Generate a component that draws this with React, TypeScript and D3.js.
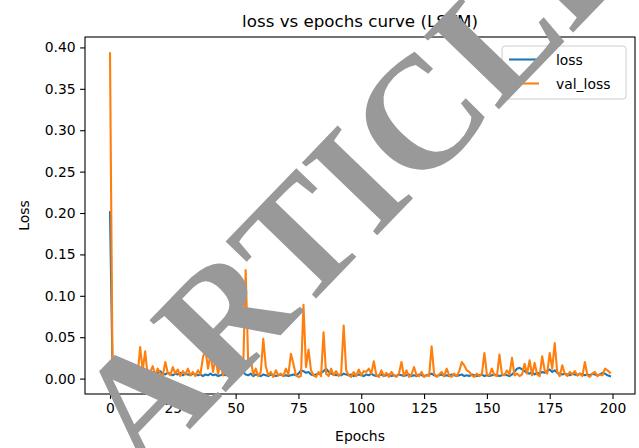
import React, { useEffect, useRef } from 'react';
import * as d3 from 'd3';

// per-epoch values
const loss = [
  0.201,
  0.012, 0.018, 0.010, 0.015, 0.008, 0.013, 0.009, 0.011, 0.007, 0.010,
  0.008, 0.006, 0.009, 0.007, 0.010, 0.006, 0.008, 0.005, 0.007, 0.009,
  0.006, 0.005, 0.007, 0.006, 0.004, 0.006, 0.005, 0.007, 0.004, 0.006,
  0.005, 0.004, 0.006, 0.005, 0.004, 0.005, 0.003, 0.005, 0.004, 0.006,
  0.004, 0.005, 0.003, 0.004, 0.006, 0.004, 0.005, 0.003, 0.004, 0.005,
  0.004, 0.006, 0.008, 0.005, 0.004, 0.006, 0.003, 0.005, 0.004, 0.003,
  0.005, 0.004, 0.003, 0.005, 0.004, 0.003, 0.004, 0.005, 0.003, 0.004,
  0.003, 0.004, 0.005, 0.004, 0.006, 0.010, 0.009, 0.007, 0.008, 0.005,
  0.004, 0.005, 0.006, 0.007, 0.009, 0.012, 0.008, 0.006, 0.005, 0.004,
  0.005, 0.004, 0.006, 0.005, 0.004, 0.005, 0.003, 0.004, 0.005, 0.004,
  0.003, 0.005, 0.004, 0.006, 0.004, 0.003, 0.004, 0.005, 0.003, 0.004,
  0.005, 0.003, 0.004, 0.003, 0.005, 0.004, 0.003, 0.004, 0.005, 0.003,
  0.004, 0.003, 0.005, 0.004, 0.003, 0.004, 0.005, 0.006, 0.004, 0.003,
  0.004, 0.005, 0.003, 0.004, 0.003, 0.005, 0.004, 0.003, 0.004, 0.005,
  0.003, 0.004, 0.003, 0.005, 0.004, 0.003, 0.004, 0.005, 0.003, 0.004,
  0.003, 0.004, 0.005, 0.004, 0.003, 0.004, 0.005, 0.004, 0.003, 0.005,
  0.008, 0.012, 0.013, 0.011, 0.009, 0.007, 0.006, 0.008, 0.005, 0.007,
  0.006, 0.008, 0.007, 0.009, 0.011, 0.008, 0.010, 0.007, 0.006, 0.005,
  0.006, 0.005, 0.004, 0.006, 0.005, 0.004, 0.006, 0.005, 0.004, 0.005,
  0.004, 0.006, 0.005, 0.004, 0.005, 0.007, 0.006, 0.004, 0.003,
];

const valLoss = [
  0.393,
  0.012, 0.022, 0.008, 0.018, 0.005, 0.014, 0.004, 0.010, 0.006, 0.013,
  0.004, 0.038, 0.010, 0.033, 0.003, 0.008, 0.015, 0.004, 0.012, 0.006,
  0.003, 0.020, 0.007, 0.004, 0.014, 0.006, 0.011, 0.003, 0.009, 0.005,
  0.012, 0.004, 0.008, 0.003, 0.010, 0.005, 0.026, 0.035, 0.012, 0.030,
  0.008, 0.025, 0.006, 0.018, 0.004, 0.012, 0.003, 0.009, 0.005, 0.002,
  0.006, 0.004, 0.010, 0.131, 0.020, 0.024, 0.005, 0.012, 0.003, 0.008,
  0.048, 0.015, 0.004, 0.008, 0.002, 0.010, 0.004, 0.006, 0.003, 0.012,
  0.005, 0.030, 0.018, 0.004, 0.002, 0.003, 0.089, 0.014, 0.035, 0.010,
  0.004, 0.002, 0.008, 0.003, 0.056, 0.006, 0.003, 0.012, 0.004, 0.009,
  0.003, 0.006, 0.064, 0.010, 0.004, 0.002, 0.008, 0.003, 0.011, 0.004,
  0.009, 0.008, 0.012, 0.006, 0.021, 0.004, 0.002, 0.010, 0.003, 0.007,
  0.002, 0.008, 0.004, 0.002, 0.006, 0.020, 0.003, 0.010, 0.002, 0.005,
  0.014, 0.004, 0.003, 0.008, 0.002, 0.004, 0.003, 0.039, 0.006, 0.002,
  0.005, 0.008, 0.003, 0.012, 0.004, 0.002, 0.006, 0.003, 0.009, 0.020,
  0.016, 0.010, 0.008, 0.004, 0.002, 0.006, 0.003, 0.005, 0.031, 0.005,
  0.004, 0.012, 0.004, 0.003, 0.029, 0.005, 0.004, 0.010, 0.005, 0.025,
  0.004, 0.006, 0.003, 0.005, 0.018, 0.006, 0.022, 0.004, 0.019, 0.005,
  0.003, 0.027, 0.010, 0.006, 0.031, 0.012, 0.043, 0.008, 0.003, 0.016,
  0.006, 0.003, 0.008, 0.005, 0.009, 0.004, 0.006, 0.003, 0.020, 0.004,
  0.002, 0.006, 0.008, 0.003, 0.005, 0.004, 0.012, 0.010, 0.007,
];

const xTicks = [0, 25, 50, 75, 100, 125, 150, 175, 200];
const yTicks = [0, 0.05, 0.1, 0.15, 0.2, 0.25, 0.3, 0.35, 0.4];
const seriesNames = ['loss', 'val_loss'];

const COLORS = ['#1f77b4', '#ff7f0e'];
const FONT = '"DejaVu Sans", sans-serif';

const W = 639;
const H = 448;
const M = { left: 85, right: 635, top: 37, bottom: 394 };

const App: React.FC = () => {
  const svgRef = useRef<SVGSVGElement>(null);

  useEffect(() => {
    if (!svgRef.current) return;
    const svg = d3.select(svgRef.current);
    svg.selectAll('*').remove();

    const n = loss.length;
    const yMax = d3.max(valLoss) as number;
    const yMin = 0.001;
    const yPad = (yMax - yMin) * 0.05;
    const x = d3.scaleLinear().domain([-(n - 1) * 0.05, (n - 1) * 1.05]).range([M.left, M.right]);
    const y = d3.scaleLinear().domain([yMin - yPad, yMax + yPad]).range([M.bottom, M.top]);

    svg.append('rect').attr('width', W).attr('height', H).attr('fill', '#fff');

    const line = d3.line<number>().x((_, i) => x(i)).y((d) => y(d));
    const plot = svg.append('g');
    plot.append('defs').append('clipPath').attr('id', 'clip')
      .append('rect').attr('x', M.left).attr('y', M.top)
      .attr('width', M.right - M.left).attr('height', M.bottom - M.top);

    [loss, valLoss].forEach((s, k) => {
      plot.append('path')
        .attr('d', line(s))
        .attr('clip-path', 'url(#clip)')
        .attr('fill', 'none')
        .attr('stroke', COLORS[k])
        .attr('stroke-width', 2.1)
        .attr('stroke-linejoin', 'round')
        .attr('stroke-linecap', 'square');
    });

    // axes
    const xAxis = svg.append('g').attr('transform', `translate(0,${M.bottom})`)
      .call(d3.axisBottom(x).tickValues(xTicks).tickSize(4.9).tickPadding(4.5).tickFormat(d3.format('d')));
    const yAxis = svg.append('g').attr('transform', `translate(${M.left},0)`)
      .call(d3.axisLeft(y).tickValues(yTicks).tickSize(4.9).tickPadding(4.5).tickFormat(d3.format('.2f')));
    [xAxis, yAxis].forEach((a) => {
      a.select('.domain').remove();
      a.selectAll('line').attr('stroke', '#000').attr('stroke-width', 1.1);
      a.selectAll('text').attr('font-family', FONT).attr('font-size', 13.9).attr('fill', '#000');
    });

    svg.append('rect')
      .attr('x', M.left).attr('y', M.top)
      .attr('width', M.right - M.left).attr('height', M.bottom - M.top)
      .attr('fill', 'none').attr('stroke', '#000').attr('stroke-width', 1.1);

    svg.append('text').attr('x', (M.left + M.right) / 2).attr('y', 27)
      .attr('text-anchor', 'middle').attr('font-family', FONT).attr('font-size', 16.7)
      .text('loss vs epochs curve (LSTM)');
    svg.append('text').attr('x', (M.left + M.right) / 2).attr('y', 441)
      .attr('text-anchor', 'middle').attr('font-family', FONT).attr('font-size', 13.9)
      .text('Epochs');
    svg.append('text')
      .attr('transform', `translate(29,${(M.top + M.bottom) / 2}) rotate(-90)`)
      .attr('text-anchor', 'middle').attr('font-family', FONT).attr('font-size', 13.9)
      .text('Loss');

    // legend
    const lg = svg.append('g').attr('transform', 'translate(502,46)');
    lg.append('rect').attr('width', 124).attr('height', 53).attr('rx', 3)
      .attr('fill', '#fff').attr('fill-opacity', 0.8).attr('stroke', '#ccc').attr('stroke-width', 1);
    seriesNames.forEach((name, k) => {
      const cy = 13.5 + k * 24;
      lg.append('line').attr('x1', 7).attr('x2', 37).attr('y1', cy).attr('y2', cy)
        .attr('stroke', COLORS[k]).attr('stroke-width', 2.1);
      lg.append('text').attr('x', 54).attr('y', cy + 5).attr('font-family', FONT)
        .attr('font-size', 13.9).text(name);
    });

    // watermark across the figure
    svg.append('text')
      .attr('transform', 'translate(394,218) rotate(-46)')
      .attr('text-anchor', 'middle')
      .attr('font-family', '"Liberation Serif", serif')
      .attr('font-weight', 'bold')
      .attr('font-size', 160)
      .attr('fill', '#999999')
      .text('ARTICLE');
  }, []);

  return (
    <svg
      ref={svgRef}
      width={W}
      height={H}
      style={{ position: 'absolute', top: 0, left: 0, display: 'block' }}
    />
  );
};

export default App;
